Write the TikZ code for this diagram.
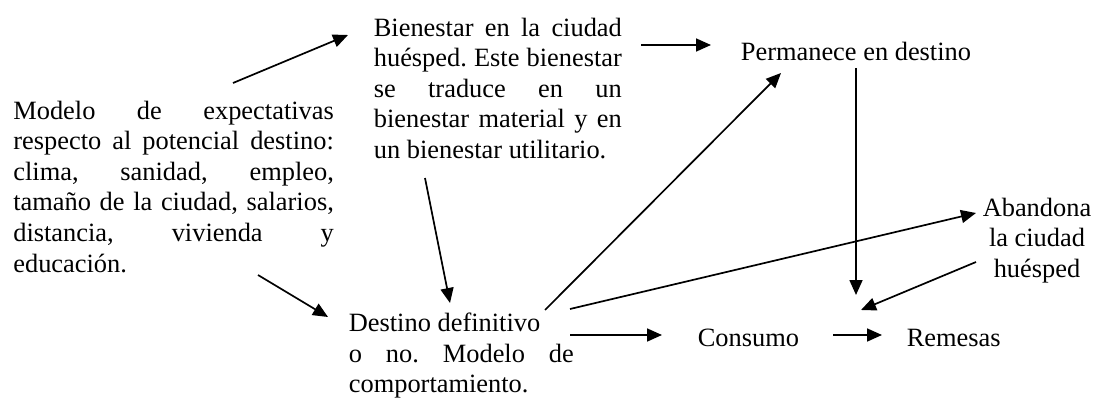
\documentclass[tikz,border=0pt]{standalone}
\usepackage{fontspec}
\setmainfont{Liberation Serif}
\usetikzlibrary{arrows.meta}
\tolerance=10000
\hbadness=10000
\hyphenpenalty=10000
\frenchspacing

\begin{document}
\begin{tikzpicture}[x=1pt, y=-1pt, line width=1.7pt,
    >={Triangle[length=15pt,width=13pt]},
    font=\fontsize{26.4}{30.6}\selectfont,
    bloque/.style={text width=#1, align=justify, inner sep=0pt, anchor=north west}]
    \useasboundingbox (0,0) rectangle (1094,401);

    \node[bloque=320.5pt] (modelo) at (12.5,100) {Modelo de expectativas\linebreak respecto al potencial destino:\linebreak clima, sanidad, empleo,\linebreak tamaño de la ciudad, salarios,\linebreak distancia, vivienda y\linebreak educación.};
    \node[bloque=248pt] (bienestar) at (373,17) {Bienestar en la ciudad\linebreak huésped. Este bienestar\linebreak se traduce en un\linebreak bienestar material y en\linebreak un bienestar utilitario.};
    \node[bloque=225pt] (destino) at (348,312) {Destino definitivo\newline o no. Modelo de\linebreak comportamiento.};
    \node[inner sep=0pt, anchor=base west] (permanece) at (740,60.5) {Permanece en destino};
    \node[inner sep=0pt, anchor=base west] (consumo) at (697,346) {Consumo};
    \node[inner sep=0pt, anchor=base west] (remesas) at (906,346) {Remesas};
    \node[inner sep=0pt, anchor=north, align=center] (abandona) at (1037,197) {Abandona\\la ciudad\\huésped};

    \coordinate (mb1) at (233,83);
    \coordinate (mb2) at (348,35);
    \coordinate (bp1) at (641,45);
    \coordinate (bp2) at (711,45);
    \coordinate (pr1) at (856,68);
    \coordinate (pr2) at (856,295);
    \coordinate (bd1) at (425,178);
    \coordinate (bd2) at (450,303);
    \coordinate (md1) at (258,275);
    \coordinate (md2) at (328,317);
    \coordinate (dp1) at (545,310);
    \coordinate (dp2) at (781,73);
    \coordinate (da1) at (570,309);
    \coordinate (da2) at (976,213);
    \coordinate (ar1) at (976,262);
    \coordinate (ar2) at (861,310);
    \coordinate (dc1) at (570,335);
    \coordinate (dc2) at (662,335);
    \coordinate (cr1) at (833,335);
    \coordinate (cr2) at (882,335);

    \draw[->] (mb1) to (mb2);
    \draw[->] (bp1) to (bp2);
    \draw[->] (pr1) to (pr2);
    \draw[->] (bd1) to (bd2);
    \draw[->] (md1) to (md2);
    \draw[->] (dp1) to (dp2);
    \draw[->] (da1) to (da2);
    \draw[->] (ar1) to (ar2);
    \draw[->] (dc1) to (dc2);
    \draw[->] (cr1) to (cr2);
\end{tikzpicture}
\end{document}
